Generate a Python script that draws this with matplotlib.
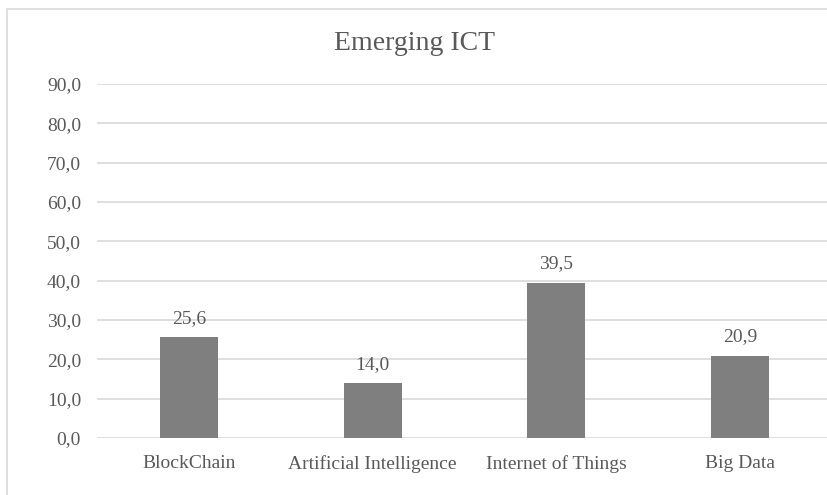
import matplotlib.pyplot as plt
import numpy as np
from matplotlib.patches import Rectangle

categories = ['BlockChain', 'Artificial Intelligence', 'Internet of Things', 'Big Data']
values = [25.6, 14.0, 39.5, 20.9]
y_ticks = [0, 10, 20, 30, 40, 50, 60, 70, 80, 90]

plt.rcParams['font.family'] = ['Liberation Serif', 'DejaVu Serif']
text_color = '#595959'

fig = plt.figure(figsize=(8.28, 4.95), dpi=100)
fig.patch.set_facecolor('white')

# chart border (light grey frame)
fig.patches.append(Rectangle((7 / 828, -0.1), 1.2, (495 - 9) / 495 + 0.1,
                             transform=fig.transFigure, fill=False,
                             edgecolor='#d9d9d9', linewidth=1.2))

ax = fig.add_axes([97 / 828, 57 / 495, 1 - 97 / 828, (438 - 84) / 495])
x = np.arange(len(categories))
ax.bar(x, values, width=0.316, color='#7f7f7f', zorder=3)

for xi, v in zip(x, values):
    ax.text(xi, v + 2.6, f'{v:.1f}'.replace('.', ','), ha='center', va='bottom',
            fontsize=14, color=text_color)

ax.set_xlim(-0.5, 3.479)
ax.set_ylim(0, 90)
ax.set_yticks(y_ticks)
ax.set_yticklabels([f'{t:.1f}'.replace('.', ',') for t in y_ticks], fontsize=14, color=text_color)
ax.set_xticks(x)
ax.set_xticklabels(categories, fontsize=14, color=text_color)
ax.tick_params(axis='both', length=0)
ax.tick_params(axis='y', pad=11.5)
ax.tick_params(axis='x', pad=12)
ax.grid(axis='y', color='#d9d9d9', linewidth=1.2, zorder=0)
for s in ax.spines.values():
    s.set_visible(False)
ax.set_facecolor('none')

fig.text(415 / 828, 1 - 43 / 495, 'Emerging ICT', ha='center', va='center',
         fontsize=20, color=text_color)

fig.savefig('out.png', dpi=100)
